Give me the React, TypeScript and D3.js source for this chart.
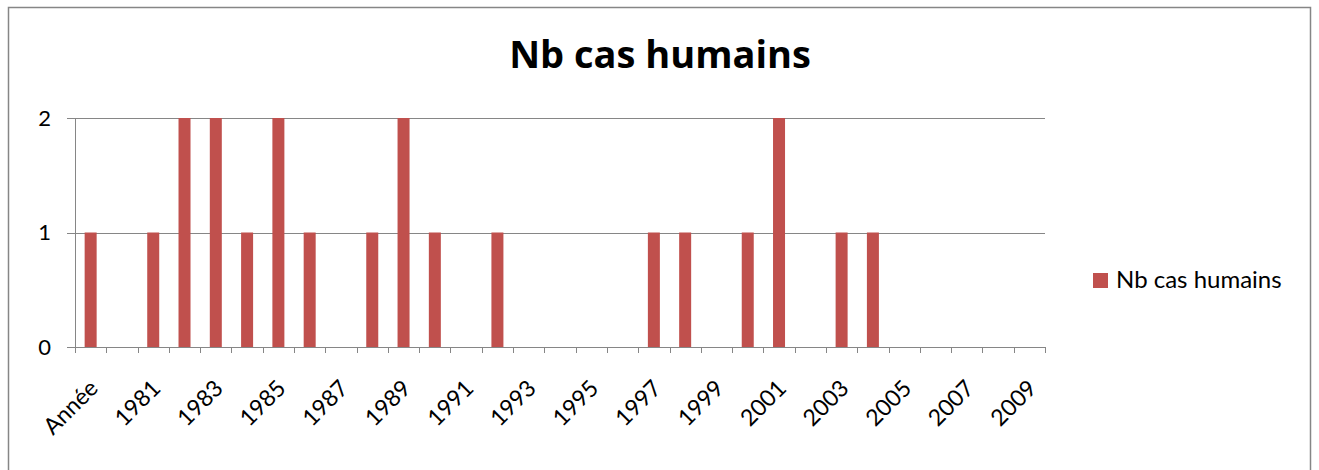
import { useEffect, useRef } from 'react'
import * as d3 from 'd3'

const categories = ['Année', '1980', '1981', '1982', '1983', '1984', '1985', '1986', '1987', '1988', '1989',
  '1990', '1991', '1992', '1993', '1994', '1995', '1996', '1997', '1998', '1999',
  '2000', '2001', '2002', '2003', '2004', '2005', '2006', '2007', '2008', '2009']
const cases = [1, 0, 1, 2, 2, 1, 2, 1, 0, 1, 2,
  1, 0, 1, 0, 0, 0, 0, 1, 1, 0,
  1, 2, 0, 1, 1, 0, 0, 0, 0, 0]
const yTicks = [0, 1, 2]
const seriesName = 'Nb cas humains'

const App = () => {
  const ref = useRef<SVGSVGElement>(null)
  const width = 1319
  const height = 470

  useEffect(() => {
    if (!ref.current) return
    const svg = d3.select(ref.current)
    svg.selectAll('*').remove()

    const font = 'Lato, "Open Sans", sans-serif'
    const left = 75, right = 1045, top = 118, bottom = 347
    const grey = '#868686'

    // frame of the chart area
    svg.append('rect')
      .attr('x', 8.5).attr('y', 7.5)
      .attr('width', 1302).attr('height', 480)
      .attr('fill', '#fff').attr('stroke', grey).attr('stroke-width', 1.5)

    svg.append('text')
      .attr('x', 660).attr('y', 68)
      .attr('text-anchor', 'middle')
      .style('font-family', '"Open Sans", sans-serif').style('font-weight', 'bold').style('font-size', '38px')
      .text(seriesName)

    const band = d3.scaleBand().domain(categories).range([left, right])
    const y = d3.scaleLinear().domain([0, 2]).range([bottom, top])

    // gridlines
    svg.append('g').selectAll('line')
      .data(yTicks.filter(d => d > 0)).enter().append('line')
      .attr('x1', left - 8).attr('x2', right)
      .attr('y1', d => Math.round(y(d)) + 0.5).attr('y2', d => Math.round(y(d)) + 0.5)
      .attr('stroke', grey)

    // bars
    svg.append('g').selectAll('rect')
      .data(cases).enter().append('rect')
      .attr('x', (d, i) => band(categories[i])! + band.bandwidth() / 2 - 6)
      .attr('width', 12)
      .attr('y', d => y(d))
      .attr('height', d => bottom - y(d))
      .attr('fill', '#C0504D')

    // axes
    svg.append('line')
      .attr('x1', left + 0.5).attr('x2', left + 0.5)
      .attr('y1', top).attr('y2', bottom)
      .attr('stroke', grey)
    svg.append('line')
      .attr('x1', left - 8).attr('x2', right)
      .attr('y1', bottom + 0.5).attr('y2', bottom + 0.5)
      .attr('stroke', grey)

    svg.append('g').selectAll('text')
      .data(yTicks).enter().append('text')
      .attr('x', 51).attr('y', d => y(d))
      .attr('dy', '0.36em')
      .attr('text-anchor', 'end')
      .style('font-family', font).style('font-size', '22px')
      .text(d => d)

    // x ticks on category boundaries
    const bounds = categories.map(c => band(c)!).concat([right])
    svg.append('g').selectAll('line')
      .data(bounds).enter().append('line')
      .attr('x1', d => Math.round(d) + 0.5).attr('x2', d => Math.round(d) + 0.5)
      .attr('y1', bottom).attr('y2', bottom + 6)
      .attr('stroke', grey)

    svg.append('g').selectAll('text')
      .data(categories.filter((c, i) => i % 2 === 0)).enter().append('text')
      .attr('transform', c => `translate(${band(c)! + band.bandwidth() / 2 + 3},${bottom + 37}) rotate(-45)`)
      .attr('text-anchor', 'end')
      .attr('dy', '0.35em')
      .style('font-family', font).style('font-size', '23px')
      .text(c => c)

    // legend
    svg.append('rect')
      .attr('x', 1093).attr('y', 273).attr('width', 15).attr('height', 15)
      .attr('fill', '#C0504D')
    svg.append('text')
      .attr('x', 1116).attr('y', 288)
      .style('font-family', font).style('font-size', '24px')
      .text(seriesName)
  }, [])

  return (
    <svg ref={ref} width={width} height={height} style={{ position: 'absolute', left: 0, top: 0 }} />
  )
}

export default App
